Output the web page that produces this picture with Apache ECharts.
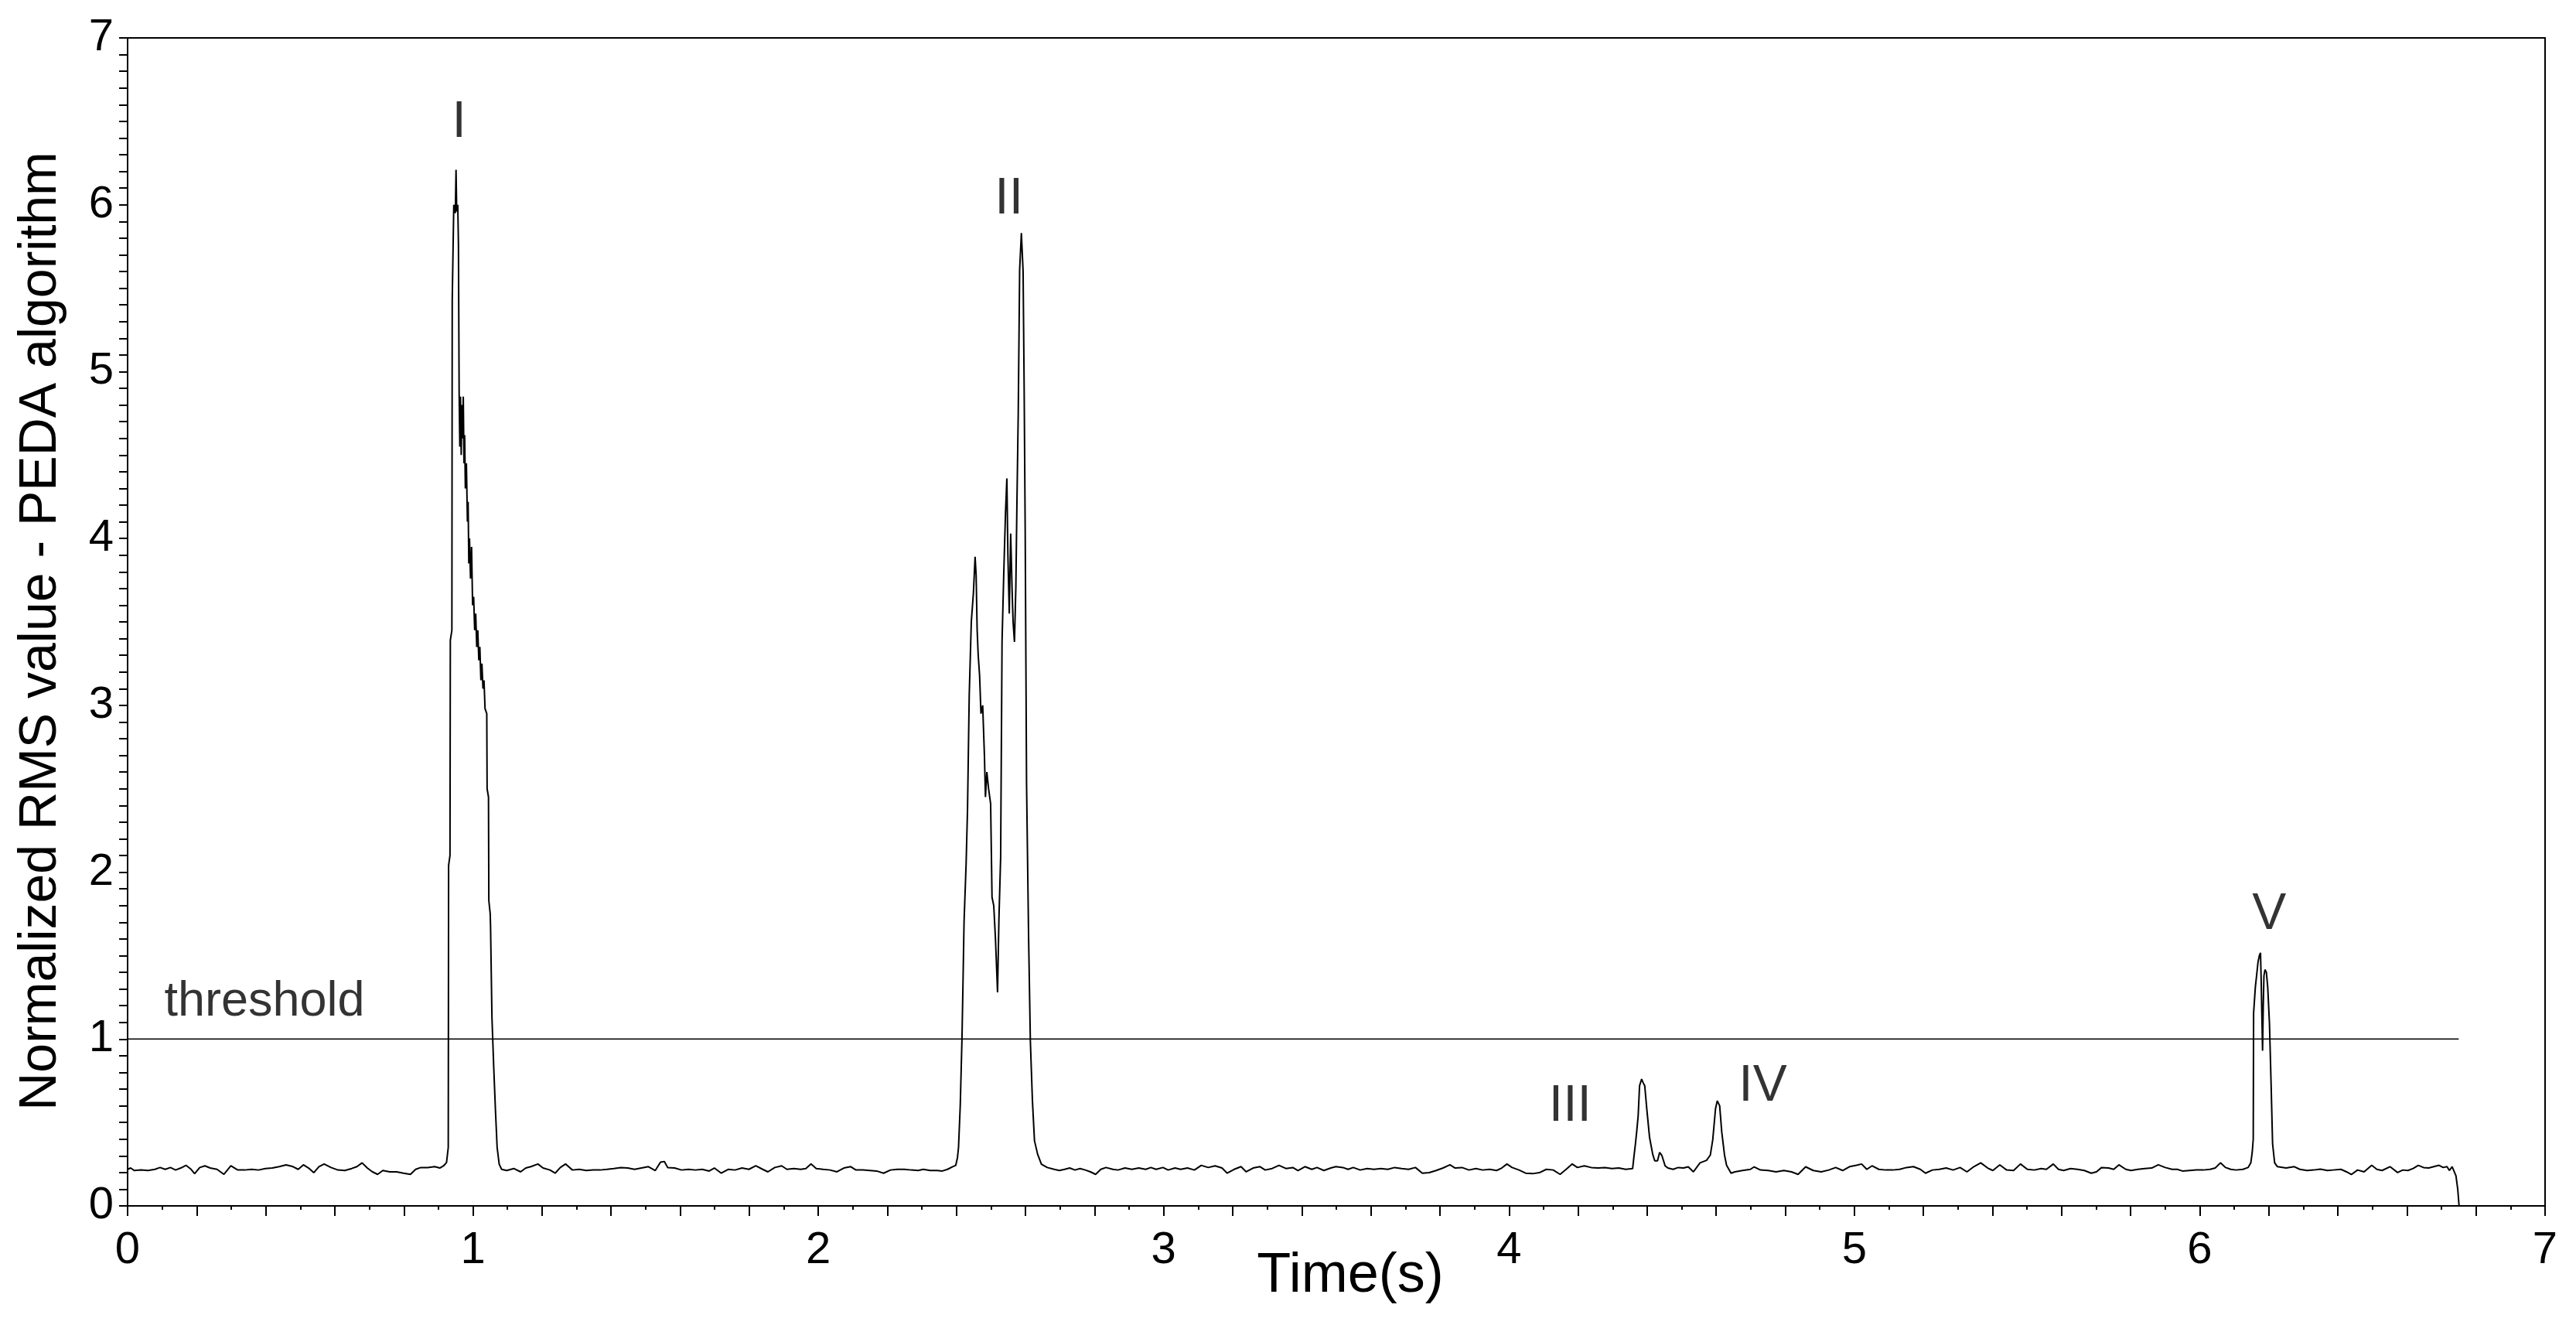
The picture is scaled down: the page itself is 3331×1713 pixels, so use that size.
<!DOCTYPE html>
<html>
<head>
<meta charset="utf-8">
<title>Normalized RMS value - PEDA algorithm</title>
<script src="https://cdn.jsdelivr.net/npm/echarts@6/dist/echarts.min.js"></script>
<style>
  html, body { margin: 0; padding: 0; background: #fff; }
  #chart { width: 3331px; height: 1713px; }
</style>
</head>
<body>
<div id="chart"></div>
<script>
// [time (s), normalized RMS], segment by segment
const baseStart = [[0.000,0.219],[0.009,0.227],[0.019,0.212],[0.039,0.215],[0.059,0.212],[0.079,0.219],[0.094,0.230],[0.109,0.219],[0.124,0.230],[0.139,0.215],[0.154,0.227],[0.169,0.243],[0.184,0.219],[0.194,0.193],[0.209,0.230],[0.224,0.240],[0.239,0.227],[0.259,0.219],[0.279,0.189],[0.299,0.240],[0.319,0.215],[0.339,0.215],[0.359,0.219],[0.379,0.215],[0.399,0.224],[0.419,0.227],[0.439,0.235],[0.459,0.246],[0.479,0.235],[0.494,0.219],[0.509,0.246],[0.524,0.227],[0.539,0.199],[0.554,0.235],[0.569,0.251],[0.589,0.230],[0.609,0.215],[0.629,0.212],[0.649,0.224],[0.664,0.235],[0.679,0.258],[0.694,0.227],[0.709,0.204],[0.724,0.189],[0.739,0.212],[0.759,0.204],[0.779,0.204],[0.799,0.196],[0.819,0.189],[0.834,0.219],[0.849,0.230],[0.869,0.230],[0.889,0.235],[0.904,0.227],[0.915,0.240]]

const peakI = [[0.9235,0.26],[0.9285,0.35],[0.9295,2.04],[0.9335,2.1],[0.9345,3.39],[0.939,3.45],[0.940,5.43],[0.9445,6.0],[0.949,5.95],[0.951,6.21],[0.953,5.96],[0.956,6.0],[0.958,5.76],[0.960,4.87],[0.962,4.55],[0.964,4.85],[0.966,4.5],[0.968,4.8],[0.970,4.6],[0.972,4.85],[0.974,4.45],[0.976,4.62],[0.978,4.3],[0.981,4.45],[0.984,4.1],[0.986,4.22],[0.988,3.85],[0.990,4.0],[0.993,3.76],[0.996,3.95],[0.999,3.6],[1.002,3.65],[1.005,3.45],[1.008,3.55],[1.011,3.35],[1.014,3.45],[1.017,3.27],[1.020,3.35],[1.023,3.15],[1.026,3.25],[1.029,3.1],[1.032,3.15],[1.035,2.98],[1.040,2.95],[1.041,2.5],[1.045,2.45],[1.046,1.83],[1.050,1.75],[1.051,1.67],[1.055,1.13],[1.060,0.84],[1.065,0.58],[1.070,0.35],[1.076,0.25]]

const baseAfterI = [[1.083,0.219],[1.098,0.212],[1.118,0.224],[1.138,0.204],[1.153,0.227],[1.168,0.235],[1.188,0.251],[1.203,0.227],[1.223,0.215],[1.238,0.196],[1.253,0.230],[1.268,0.251],[1.288,0.215],[1.308,0.219],[1.328,0.212],[1.348,0.215],[1.368,0.215],[1.388,0.219],[1.408,0.224],[1.428,0.230],[1.448,0.227],[1.468,0.219],[1.488,0.227],[1.508,0.235],[1.528,0.212],[1.543,0.262],[1.554,0.266],[1.564,0.230],[1.584,0.227],[1.604,0.215],[1.624,0.219],[1.644,0.215],[1.664,0.219],[1.684,0.209],[1.699,0.227],[1.719,0.196],[1.739,0.219],[1.759,0.215],[1.779,0.227],[1.799,0.219],[1.819,0.240],[1.839,0.219],[1.854,0.204],[1.874,0.230],[1.894,0.240],[1.909,0.219],[1.929,0.224],[1.949,0.219],[1.964,0.224],[1.979,0.251],[1.994,0.224],[2.014,0.219],[2.034,0.215],[2.054,0.204],[2.074,0.227],[2.094,0.235],[2.109,0.215],[2.129,0.215],[2.149,0.212],[2.169,0.209],[2.189,0.196],[2.209,0.215],[2.229,0.219],[2.249,0.219],[2.269,0.215],[2.289,0.212],[2.304,0.219],[2.324,0.212],[2.344,0.212],[2.359,0.209],[2.374,0.219],[2.389,0.235],[2.398,0.243]]

const peakII = [[2.403,0.29],[2.406,0.35],[2.411,0.6],[2.416,1.0],[2.419,1.34],[2.422,1.7],[2.428,2.05],[2.432,2.37],[2.437,3.06],[2.443,3.5],[2.449,3.67],[2.454,3.89],[2.457,3.78],[2.460,3.45],[2.463,3.3],[2.467,3.18],[2.471,2.95],[2.476,3.0],[2.481,2.7],[2.484,2.45],[2.488,2.6],[2.493,2.5],[2.499,2.41],[2.503,1.85],[2.508,1.8],[2.513,1.6],[2.519,1.28],[2.523,1.72],[2.528,2.09],[2.532,3.38],[2.537,3.79],[2.542,4.15],[2.546,4.36],[2.549,3.9],[2.553,3.55],[2.557,4.03],[2.561,3.7],[2.564,3.5],[2.568,3.38],[2.572,3.71],[2.575,4.19],[2.579,4.76],[2.583,5.61],[2.588,5.83],[2.593,5.6],[2.596,4.92],[2.599,4.07],[2.603,2.53],[2.609,1.6],[2.614,0.99],[2.620,0.63],[2.626,0.39],[2.635,0.31],[2.646,0.25]]

const baseAfterII = [[2.663,0.230],[2.683,0.219],[2.698,0.212],[2.713,0.219],[2.728,0.227],[2.743,0.215],[2.758,0.224],[2.773,0.215],[2.788,0.204],[2.803,0.189],[2.818,0.219],[2.833,0.230],[2.853,0.219],[2.868,0.215],[2.888,0.227],[2.908,0.219],[2.928,0.227],[2.948,0.219],[2.963,0.230],[2.978,0.219],[2.998,0.230],[3.013,0.215],[3.033,0.227],[3.049,0.219],[3.069,0.227],[3.089,0.215],[3.109,0.243],[3.129,0.230],[3.149,0.240],[3.169,0.227],[3.184,0.196],[3.204,0.219],[3.224,0.235],[3.239,0.204],[3.259,0.227],[3.279,0.235],[3.294,0.215],[3.314,0.224],[3.334,0.243],[3.354,0.224],[3.374,0.230],[3.389,0.212],[3.409,0.235],[3.429,0.219],[3.444,0.230],[3.464,0.212],[3.484,0.227],[3.499,0.235],[3.519,0.230],[3.534,0.219],[3.549,0.230],[3.569,0.215],[3.589,0.224],[3.609,0.219],[3.629,0.224],[3.649,0.219],[3.669,0.230],[3.689,0.224],[3.709,0.219],[3.729,0.230],[3.749,0.196],[3.769,0.199],[3.789,0.212],[3.809,0.227],[3.829,0.246],[3.844,0.227],[3.864,0.230],[3.884,0.215],[3.904,0.224],[3.924,0.215],[3.944,0.219],[3.964,0.212],[3.979,0.227],[3.994,0.251],[4.009,0.230],[4.029,0.215],[4.048,0.196],[4.068,0.193],[4.088,0.199],[4.108,0.219],[4.128,0.215],[4.148,0.189],[4.168,0.224],[4.183,0.251],[4.198,0.230],[4.218,0.240],[4.238,0.230],[4.258,0.227],[4.278,0.230],[4.298,0.224],[4.318,0.227],[4.338,0.219],[4.358,0.224]]

const peakIII = [[4.362,0.30],[4.366,0.37],[4.370,0.45],[4.374,0.54],[4.378,0.72],[4.384,0.76],[4.388,0.74],[4.393,0.72],[4.399,0.58],[4.407,0.41],[4.416,0.31],[4.422,0.27],[4.430,0.27],[4.436,0.32],[4.440,0.31],[4.443,0.30],[4.452,0.24]]

const baseBetween = [[4.460,0.227],[4.475,0.219],[4.490,0.230],[4.505,0.227],[4.519,0.234],[4.534,0.204]]

const peakIV = [[4.553,0.258],[4.572,0.273],[4.583,0.305],[4.590,0.397],[4.598,0.583],[4.603,0.63],[4.610,0.60],[4.616,0.443],[4.624,0.305],[4.630,0.243],[4.643,0.196]]

const baseAfterIV = [[4.654,0.204],[4.676,0.212],[4.699,0.219],[4.710,0.234],[4.728,0.215],[4.751,0.212],[4.773,0.204],[4.796,0.212],[4.818,0.204],[4.837,0.189],[4.859,0.234],[4.881,0.212],[4.904,0.204],[4.926,0.215],[4.946,0.230],[4.966,0.212],[4.986,0.235],[5.006,0.243],[5.021,0.251],[5.036,0.219],[5.051,0.240],[5.071,0.219],[5.091,0.215],[5.111,0.215],[5.131,0.219],[5.151,0.230],[5.171,0.235],[5.191,0.219],[5.206,0.196],[5.226,0.215],[5.246,0.219],[5.266,0.227],[5.286,0.215],[5.306,0.230],[5.326,0.204],[5.346,0.235],[5.366,0.258],[5.386,0.227],[5.401,0.212],[5.421,0.246],[5.441,0.215],[5.461,0.212],[5.481,0.251],[5.501,0.219],[5.521,0.215],[5.541,0.224],[5.556,0.219],[5.576,0.251],[5.591,0.219],[5.606,0.212],[5.626,0.224],[5.646,0.219],[5.666,0.212],[5.686,0.196],[5.701,0.204],[5.716,0.230],[5.736,0.227],[5.751,0.219],[5.766,0.246],[5.786,0.219],[5.801,0.212],[5.821,0.219],[5.841,0.224],[5.861,0.227],[5.880,0.246],[5.900,0.230],[5.920,0.219],[5.935,0.219],[5.950,0.209],[5.970,0.212],[5.990,0.215],[6.010,0.215],[6.030,0.219],[6.045,0.227],[6.060,0.258],[6.075,0.230],[6.090,0.219],[6.105,0.215],[6.125,0.219],[6.140,0.230]]

const peakV = [[6.148,0.258],[6.152,0.32],[6.155,0.40],[6.156,1.154],[6.161,1.309],[6.165,1.386],[6.169,1.464],[6.173,1.502],[6.176,1.517],[6.178,1.35],[6.180,1.138],[6.182,0.93],[6.184,1.2],[6.186,1.38],[6.189,1.416],[6.193,1.40],[6.197,1.309],[6.202,1.092],[6.207,0.706],[6.211,0.372],[6.217,0.258],[6.225,0.235]]

const baseEnd = [[6.250,0.227],[6.274,0.235],[6.290,0.219],[6.311,0.212],[6.330,0.215],[6.349,0.220],[6.370,0.212],[6.386,0.215],[6.409,0.219],[6.425,0.204],[6.439,0.188],[6.457,0.215],[6.476,0.204],[6.498,0.243],[6.513,0.219],[6.528,0.212],[6.551,0.235],[6.573,0.200],[6.588,0.215],[6.603,0.212],[6.618,0.224],[6.633,0.243],[6.648,0.230],[6.663,0.227],[6.678,0.235],[6.693,0.243],[6.705,0.230],[6.716,0.235],[6.723,0.212],[6.731,0.235],[6.742,0.180],[6.747,0.103],[6.751,0.0]]

const thresholdLine = [[0, 1], [6.75, 1]]

// peak names and where they sit
const peakLabels = [
  { name: 'I', value: [0.96, 6.49] },
  { name: 'II', value: [2.552, 6.03] },
  { name: 'III', value: [4.177, 0.595] },
  { name: 'IV', value: [4.735, 0.715] },
  { name: 'V', value: [6.201, 1.743] }
]
const thresholdLabel = [{ name: 'threshold', value: [0.105, 1.22] }]

const FONT = "'Liberation Sans', Arial, sans-serif"

const rmsTrace = [].concat(baseStart, peakI, baseAfterI, peakII, baseAfterII,
  peakIII, baseBetween, peakIV, baseAfterIV, peakV, baseEnd)

const chart = echarts.init(document.getElementById('chart'))

function wholeOnly(v) {
  return Math.abs(v - Math.round(v)) < 1e-6 ? String(Math.round(v)) : ''
}

const option = {
  animation: false,
  backgroundColor: '#fff',
  grid: {
    left: 165, right: 40, top: 49, bottom: 154,
    outerBoundsMode: 'none',
    show: true, borderColor: '#000', borderWidth: 2
  },
  xAxis: {
    type: 'value',
    min: 0, max: 7, interval: 0.2,
    name: 'Time(s)',
    nameLocation: 'middle',
    nameGap: 55,
    nameMoveOverlap: false,
    nameTextStyle: { fontSize: 72, color: '#000', fontFamily: FONT, padding: [0, 0, 0, 36] },
    axisLine: { lineStyle: { color: '#000', width: 2 } },
    axisTick: { length: 13, lineStyle: { color: '#000', width: 2 } },
    minorTick: { show: true, splitNumber: 2, length: 5, lineStyle: { color: '#000', width: 2 } },
    axisLabel: { fontSize: 58, color: '#000', fontFamily: FONT, margin: 29, formatter: wholeOnly },
    splitLine: { show: false }
  },
  yAxis: {
    type: 'value',
    min: 0, max: 7, interval: 1,
    name: 'Normalized RMS value - PEDA algorithm',
    nameLocation: 'middle',
    nameGap: 78,
    nameMoveOverlap: false,
    nameTextStyle: { fontSize: 68, color: '#000', fontFamily: FONT, padding: [0, 24, 0, 0] },
    axisLine: { show: true, lineStyle: { color: '#000', width: 2 } },
    axisTick: { show: true, length: 11, lineStyle: { color: '#000', width: 2 } },
    minorTick: { show: true, splitNumber: 10, length: 11, lineStyle: { color: '#000', width: 2 } },
    axisLabel: { fontSize: 58, color: '#000', fontFamily: FONT, margin: 18 },
    splitLine: { show: false }
  },
  series: [
    {
      name: 'threshold',
      type: 'line',
      data: thresholdLine,
      showSymbol: false,
      lineStyle: { color: '#000', width: 1.6 }
    },
    {
      name: 'RMS',
      type: 'line',
      data: rmsTrace,
      showSymbol: false,
      sampling: false,
      lineStyle: { color: '#000', width: 2 }
    },
    {
      name: 'peaks',
      type: 'scatter',
      data: peakLabels,
      symbolSize: 1,
      itemStyle: { color: 'rgba(0,0,0,0)' },
      label: {
        show: true, position: 'inside', formatter: '{b}',
        fontSize: 66, color: '#000', fontFamily: FONT
      }
    },
    {
      name: 'thresholdText',
      type: 'scatter',
      data: thresholdLabel,
      symbolSize: 1,
      itemStyle: { color: 'rgba(0,0,0,0)' },
      label: {
        show: true, position: 'right', distance: 0, formatter: '{b}',
        fontSize: 63, color: '#000', fontFamily: FONT
      }
    }
  ]
}

chart.setOption(option)
</script>
</body>
</html>
